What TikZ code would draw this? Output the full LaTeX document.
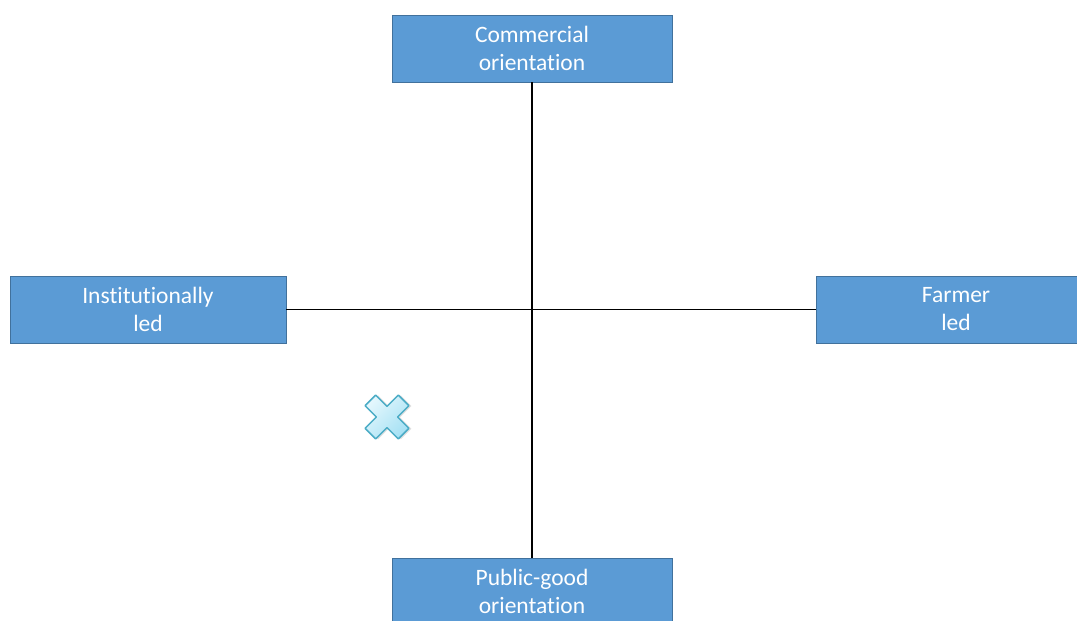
\documentclass[tikz,border=0pt]{standalone}
\usepackage{fontspec}
\setmainfont[Ligatures=NoCommon]{Carlito}
\definecolor{boxfill}{HTML}{5B9BD5}
\definecolor{boxline}{HTML}{41719C}
\definecolor{xfill}{HTML}{A6E1F4}
\definecolor{xfilltop}{HTML}{E4F7FD}
\definecolor{xline}{HTML}{4BACC6}
\begin{document}
\begin{tikzpicture}[x=1pt,y=-1pt,
  axisbox/.style={rectangle, fill=boxfill, draw=boxline, line width=0.8pt,
    text=white, font=\fontsize{23.5}{28}\selectfont, align=center, inner sep=0pt,
    minimum height=67pt},
  axisline/.style={draw=black, line width=1.5pt}]
\useasboundingbox (0,0) rectangle (1077,621);
\begin{scope}
\clip (0,0) rectangle (1077,621);
\node[axisbox, minimum width=280pt] (top) at (532,48.5) {Commercial\\orientation};
\node[axisbox, minimum width=276pt] (left) at (148,309.5) {Institutionally\\led};
\node[axisbox, minimum width=280pt] (right) at (956,309.5) {Farmer\\led};
\node[axisbox, minimum width=280pt] (bottom) at (532,591.5) {Public-good\\orientation};
\end{scope}
\draw[axisline] (top.south) -- (bottom.north);
\draw[axisline] (left.east) -- (right.west);
% cross mark
\coordinate (xc) at (387,417);
\begin{scope}[shift={(xc)}, rotate=45]
  \fill[black!25, opacity=0.5, xshift=1.5pt, yshift=-2pt]
    (-7.5,-23.5) -- (7.5,-23.5) -- (7.5,-7.5) -- (23.5,-7.5) -- (23.5,7.5) -- (7.5,7.5)
    -- (7.5,23.5) -- (-7.5,23.5) -- (-7.5,7.5) -- (-23.5,7.5) -- (-23.5,-7.5) -- (-7.5,-7.5) -- cycle;
  \path[draw=xline, line width=1.5pt, line join=round, top color=xfilltop, bottom color=xfill, shading angle=45]
    (-7.5,-23.5) -- (7.5,-23.5) -- (7.5,-7.5) -- (23.5,-7.5) -- (23.5,7.5) -- (7.5,7.5)
    -- (7.5,23.5) -- (-7.5,23.5) -- (-7.5,7.5) -- (-23.5,7.5) -- (-23.5,-7.5) -- (-7.5,-7.5) -- cycle;
\end{scope}
\end{tikzpicture}
\end{document}
